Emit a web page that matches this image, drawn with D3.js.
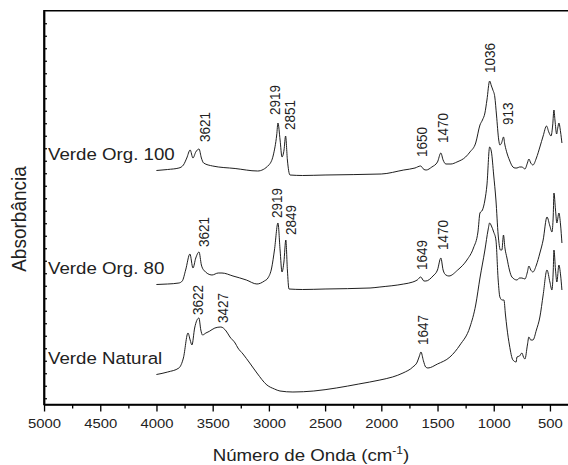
<!DOCTYPE html>
<html>
<head>
<meta charset="utf-8">
<script src="https://cdn.jsdelivr.net/npm/d3@7"></script>
<style>
  body { margin: 0; background: #fff; }
  svg { display: block; font-family: "Liberation Sans", Arial, sans-serif; }
</style>
</head>
<body>
<div id="chart"></div>
<script>

// Spectra: [wavenumber (cm-1), absorbance]
const specOrg100 = [
  [4000,1.822],[3900,1.830],[3800,1.842],[3760,1.866],[3730,1.922],[3700,1.986],[3675,1.922],[3650,1.970],
  [3621,1.994],[3600,1.922],[3580,1.882],[3500,1.858],[3300,1.838],[3100,1.818],[3000,1.866],[2960,1.946],
  [2930,2.106],[2919,2.202],[2900,2.066],[2883,1.930],[2865,1.986],[2851,2.098],[2835,1.906],[2812,1.786],
  [2700,1.782],[2500,1.786],[2000,1.794],[1800,1.826],[1700,1.842],[1650,1.858],[1620,1.830],[1600,1.826],
  [1550,1.850],[1500,1.890],[1470,1.962],[1450,1.906],[1425,1.874],[1380,1.874],[1327,1.890],[1250,1.930],
  [1211,1.970],[1160,2.042],[1122,2.186],[1100,2.226],[1078,2.282],[1060,2.386],[1036,2.538],[1020,2.498],
  [1007,2.466],[990,2.410],[975,2.266],[955,2.066],[945,2.026],[930,2.042],[913,2.090],[900,2.026],
  [882,1.962],[860,1.906],[829,1.850],[810,1.842],[793,1.842],[770,1.850],[749,1.850],[735,1.842],
  [722,1.834],[700,1.882],[687,1.914],[670,1.882],[651,1.866],[620,1.922],[589,2.010],[560,2.098],
  [530,2.178],[510,2.130],[490,2.098],[475,2.186],[464,2.306],[455,2.226],[440,2.114],[430,2.162],
  [420,2.202],[405,2.130],[393,2.042]
];

const specOrg80 = [
  [4000,0.910],[3900,0.914],[3800,0.922],[3770,0.938],[3740,1.026],[3702,1.154],[3675,1.042],[3650,1.122],
  [3621,1.170],[3600,1.066],[3580,1.026],[3506,0.986],[3450,1.002],[3417,1.002],[3319,0.978],[3200,0.946],
  [3106,0.914],[3040,0.938],[3008,0.962],[2975,1.042],[2950,1.186],[2919,1.402],[2900,1.186],[2883,1.010],
  [2866,1.090],[2849,1.266],[2835,1.026],[2821,0.874],[2700,0.870],[2500,0.874],[2100,0.882],[2012,0.890],
  [1800,0.914],[1719,0.930],[1680,0.946],[1649,0.970],[1620,0.938],[1603,0.938],[1540,0.978],[1500,1.026],
  [1470,1.122],[1450,1.026],[1425,0.986],[1398,0.978],[1320,1.026],[1238,1.106],[1180,1.202],[1140,1.330],
  [1122,1.482],[1100,1.506],[1078,1.586],[1060,1.706],[1036,2.010],[1020,1.970],[1000,1.786],[980,1.586],
  [960,1.306],[940,1.186],[927,1.186],[913,1.306],[900,1.202],[882,1.122],[860,1.026],[838,0.970],
  [793,0.946],[770,0.962],[749,0.962],[722,0.954],[700,1.010],[687,1.058],[670,1.026],[651,1.010],
  [620,1.066],[589,1.162],[560,1.266],[526,1.450],[500,1.378],[482,1.330],[470,1.466],[464,1.642],
  [450,1.506],[438,1.402],[420,1.482],[405,1.386],[393,1.242]
];

const specNatural = [
  [4000,0.190],[3900,0.210],[3800,0.242],[3760,0.322],[3719,0.522],[3700,0.466],[3684,0.426],[3660,0.562],
  [3622,0.642],[3605,0.546],[3590,0.506],[3560,0.522],[3530,0.535],[3480,0.562],[3427,0.570],[3380,0.538],
  [3346,0.490],[3300,0.442],[3275,0.402],[3230,0.354],[3170,0.282],[3106,0.202],[3017,0.106],[2950,0.074],
  [2901,0.058],[2786,0.050],[2600,0.058],[2400,0.082],[2200,0.114],[2012,0.146],[1900,0.170],[1807,0.202],
  [1719,0.250],[1680,0.290],[1660,0.340],[1647,0.370],[1625,0.300],[1605,0.250],[1585,0.242],[1500,0.274],
  [1389,0.330],[1300,0.426],[1211,0.570],[1160,0.746],[1122,0.962],[1078,1.186],[1050,1.346],[1036,1.402],
  [1020,1.378],[1000,1.330],[980,1.266],[960,0.946],[945,0.810],[925,0.786],[909,0.786],[895,0.666],
  [882,0.562],[860,0.426],[829,0.306],[800,0.290],[793,0.330],[770,0.338],[749,0.362],[735,0.330],
  [722,0.314],[700,0.426],[687,0.490],[670,0.466],[651,0.466],[620,0.546],[589,0.650],[560,0.826],
  [526,1.026],[500,0.930],[482,0.866],[470,1.026],[464,1.186],[450,1.026],[438,0.930],[420,1.066],
  [405,0.986],[393,0.866]
];

const seriesNames = ["Verde Org. 100", "Verde Org. 80", "Verde Natural"];

// Labelled bands for each spectrum
const peaksOrg100 = [3621, 2919, 2851, 1650, 1470, 1036, 913];
const peaksOrg80 = [3621, 2919, 2849, 1649, 1470];
const peaksNatural = [3622, 3427, 1647];

const xMajorTicks = [5000, 4500, 4000, 3500, 3000, 2500, 2000, 1500, 1000, 500];
const xMinorTicks = [4750, 4250, 3750, 3250, 2750, 2250, 1750, 1250, 750, 250];
const yTicks = d3.range(0, 3.05, 0.1);

const xTitle = "Número de Onda (cm";
const yTitle = "Absorbância";


// Dimensions (the figure is stretched a little horizontally)
const width = 568;
const height = 465;
const sx = 1.1;
const vw = width / sx;

const svg = d3.select("#chart")
  .append("svg")
    .attr("width", width)
    .attr("height", height)
    .attr("viewBox", `0 0 ${vw} ${height}`)
    .attr("preserveAspectRatio", "none");

const x = d3.scaleLinear()
  .domain([5000, 250])
  .range([44 / sx, 578 / sx]);
const y = d3.scaleLinear()
  .domain([-0.05, 3.1])
  .range([404.5, 10.75]);

// Frame
svg.append("rect")
    .attr("x", x(5000))
    .attr("y", y(3.1))
    .attr("width", x(250) - x(5000))
    .attr("height", y(-0.05) - y(3.1))
    .attr("fill", "none")
    .attr("stroke", "#000")
    .attr("stroke-width", 1.5);

// Bottom axis
const xAxis = svg.append("g")
    .attr("transform", `translate(0, ${y(-0.05)})`)
    .call(d3.axisBottom(x)
      .tickValues(xMajorTicks)
      .tickSize(7)
      .tickSizeOuter(0)
      .tickPadding(7)
      .tickFormat(d3.format("d")));
xAxis.select(".domain").attr("stroke-width", 1.5);
xAxis.selectAll(".tick line").attr("stroke-width", 1.2);
xAxis.selectAll(".tick text")
    .attr("font-size", 13.5)
    .attr("font-family", "Liberation Sans, Arial, sans-serif")
    .attr("fill", "#222");

svg.append("g")
    .attr("transform", `translate(0, ${y(-0.05)})`)
    .call(d3.axisBottom(x)
      .tickValues(xMinorTicks)
      .tickSize(4)
      .tickSizeOuter(0)
      .tickFormat(""))
  .call(g => g.select(".domain").remove())
  .selectAll(".tick line").attr("stroke-width", 1.2);

// Left axis, ticks pointing in
const yAxis = svg.append("g")
    .attr("transform", `translate(${x(5000)}, 0)`)
    .call(d3.axisLeft(y)
      .tickValues(yTicks)
      .tickSize(-3 / sx)
      .tickSizeOuter(0)
      .tickFormat(""));
yAxis.select(".domain").attr("stroke-width", 1.5);
yAxis.selectAll(".tick line").attr("stroke-width", 1.2);

// Spectra
const line = d3.line()
  .x(d => x(d[0]))
  .y(d => y(d[1]))
  .curve(d3.curveMonotoneX);

const spectra = [specOrg100, specOrg80, specNatural];
const peakSets = [peaksOrg100, peaksOrg80, peaksNatural];

svg.append("g")
    .attr("class", "spectra")
  .selectAll("path")
  .data(spectra)
  .join("path")
    .attr("d", line)
    .attr("fill", "none")
    .attr("stroke", "#111")
    .attr("stroke-width", 0.9)
    .attr("stroke-linejoin", "round");

// Series names, just above where each spectrum starts
svg.append("g")
    .attr("font-size", 17)
    .attr("fill", "#222")
  .selectAll("text")
  .data(spectra)
  .join("text")
    .attr("x", x(5000) + 4 / sx)
    .attr("y", d => y(d[0][1]) - 10)
    .text((d, i) => seriesNames[i]);

// Peak labels: hand placed in the original, so a small nudge [dx, gap] in px
const labelNudge = {
  "0-3621": [6, 7], "0-2919": [-3, 8], "0-2851": [4.5, 6], "0-1650": [1, 9],
  "0-1470": [2, 10], "0-1036": [0, 8], "0-913": [4.5, 12],
  "1-3621": [5, 5], "1-2919": [-1, 5], "1-2849": [5, 5], "1-1649": [1, 7], "1-1470": [2, 8],
  "2-3622": [-1, 3], "2-3427": [2, 4], "2-1647": [2, 7]
};

const peakLabels = peakSets.flatMap((peaks, i) => peaks.map(wn => {
  const pt = d3.least(spectra[i], d => Math.abs(d[0] - wn));
  const [dx, gap] = labelNudge[`${i}-${wn}`] || [0, 6];
  return { wn, a: pt[1], dx, gap };
}));

svg.append("g")
    .attr("font-size", 13.5)
    .attr("fill", "#222")
  .selectAll("text")
  .data(peakLabels)
  .join("text")
    .attr("transform", d => `translate(${x(d.wn) + d.dx / sx}, ${y(d.a) - d.gap}) rotate(-90)`)
    .attr("dy", "0.35em")
    .text(d => d.wn);

// Axis titles
const xt = svg.append("text")
    .attr("x", (x(5000) + x(250)) / 2)
    .attr("y", 461.5)
    .attr("text-anchor", "middle")
    .attr("font-size", 17)
    .attr("fill", "#222")
    .text(xTitle);
xt.append("tspan")
    .attr("dy", -7)
    .attr("font-size", 11)
    .text("-1");
xt.append("tspan")
    .attr("dy", 7)
    .text(")");

svg.append("text")
    .attr("transform", `translate(${19 / sx}, 219) rotate(-90)`)
    .attr("text-anchor", "middle")
    .attr("dy", "0.35em")
    .attr("font-size", 19)
    .attr("fill", "#222")
    .text(yTitle);

</script>
</body>
</html>
